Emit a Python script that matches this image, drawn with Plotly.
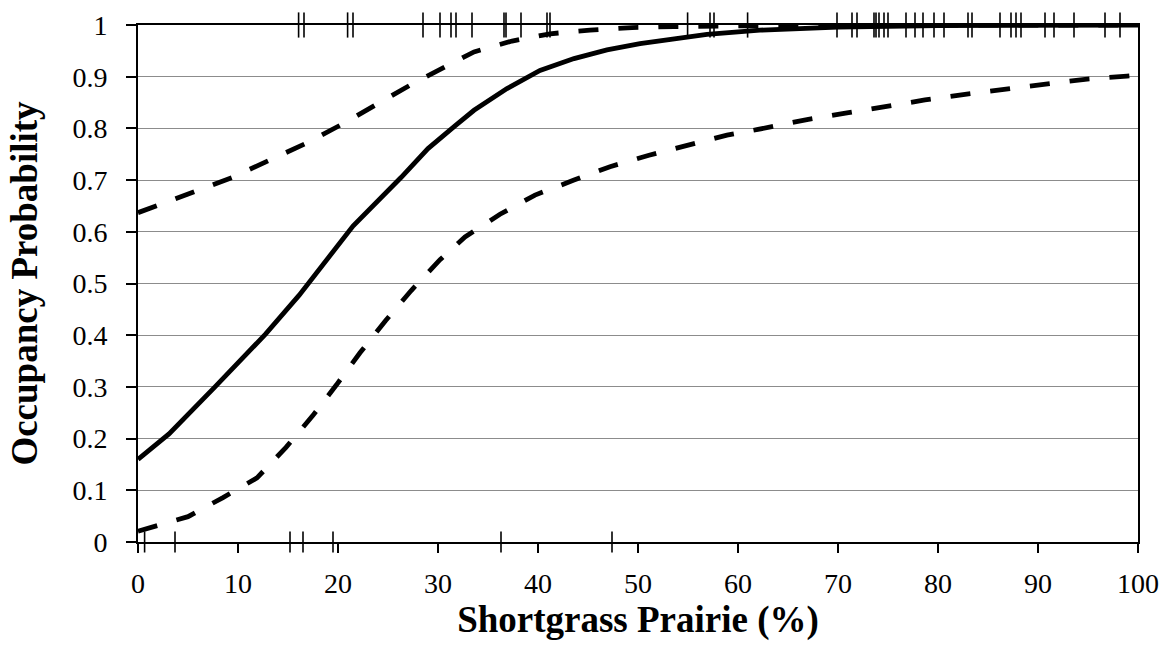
import plotly.graph_objects as go

# Shortgrass prairie (%) vs occupancy probability
mean_x = [0, 3.1, 7.7, 12.75, 16.1, 19.2, 21.5, 26.3, 29.0, 31.7, 33.6, 36.9, 40.2,
          43.6, 46.9, 50.2, 53.6, 56.9, 62.2, 70, 80, 100]
mean_y = [0.160, 0.209, 0.300, 0.402, 0.477, 0.552, 0.611, 0.705, 0.761, 0.805, 0.835,
          0.877, 0.912, 0.935, 0.952, 0.964, 0.974, 0.982, 0.990, 0.996, 0.999, 1.0]

upper_x = [0, 5.65, 9.4, 13.1, 16.8, 20.5, 24.1, 27.6, 31.2, 33.6, 37.4, 41.2, 45.2,
           49.4, 53.6, 60, 70, 100]
upper_y = [0.637, 0.677, 0.705, 0.738, 0.771, 0.809, 0.849, 0.888, 0.924, 0.948, 0.969,
           0.983, 0.990, 0.995, 0.997, 0.999, 1.0, 1.0]

lower_x = [0, 5.0, 8.5, 11.9, 14.8, 17.5, 19.85, 22.2, 24.75, 27.3, 30.2, 32.7, 36.2,
           39.7, 43.6, 47.2, 51.1, 55.1, 58.9, 62.0, 66.9, 70.9, 74.7, 78.7, 82.7, 86.7,
           90.7, 94.7, 98.9, 100]
lower_y = [0.021, 0.049, 0.086, 0.124, 0.183, 0.245, 0.304, 0.366, 0.428, 0.486, 0.546,
           0.590, 0.634, 0.671, 0.700, 0.726, 0.748, 0.768, 0.787, 0.798, 0.817, 0.830,
           0.843, 0.855, 0.866, 0.876, 0.885, 0.895, 0.901, 0.903]

# Observed sites: occupied (top rug, y=1) and unoccupied (bottom rug, y=0)
occupied_x = [16.06, 16.6, 20.96, 21.5, 28.5, 30.2, 31.3, 31.8, 33.4, 36.6, 36.8, 38.3,
              40.9, 41.2, 54.96, 57.2, 57.6, 60.96, 69.9, 71.4, 71.9, 73.6, 73.8, 74.1,
              74.6, 75.0, 76.8, 77.7, 78.5, 79.6, 80.6, 83.0, 83.4, 86.2, 87.3, 87.8,
              88.3, 90.7, 91.6, 93.6, 96.7, 98.2]
unoccupied_x = [0.66, 3.7, 15.2, 16.5, 19.5, 36.3, 47.4]

x_ticks = list(range(0, 101, 10))
y_ticks = [round(i * 0.1, 1) for i in range(11)]
y_tick_text = ["0", "0.1", "0.2", "0.3", "0.4", "0.5", "0.6", "0.7", "0.8", "0.9", "1"]

FONT = "Liberation Serif, Times New Roman, serif"

fig = go.Figure()

fig.add_trace(go.Scatter(
    x=occupied_x, y=[1] * len(occupied_x), mode="markers", cliponaxis=False,
    marker=dict(symbol="line-ns", size=18, line=dict(color="black", width=1.6)),
    showlegend=False, hoverinfo="x"))
fig.add_trace(go.Scatter(
    x=unoccupied_x, y=[0] * len(unoccupied_x), mode="markers", cliponaxis=False,
    marker=dict(symbol="line-ns", size=15, line=dict(color="black", width=1.6)),
    showlegend=False, hoverinfo="x"))

fig.add_trace(go.Scatter(x=upper_x, y=upper_y, mode="lines", cliponaxis=False,
                         line=dict(color="black", width=4.8, dash="20px,20px"),
                         showlegend=False))
fig.add_trace(go.Scatter(x=lower_x, y=lower_y, mode="lines", cliponaxis=False,
                         line=dict(color="black", width=4.8, dash="20px,20px"),
                         showlegend=False))
fig.add_trace(go.Scatter(x=mean_x, y=mean_y, mode="lines", cliponaxis=False,
                         line=dict(color="black", width=4.8),
                         showlegend=False))

fig.update_layout(
    width=1164, height=645,
    margin=dict(l=138, r=26, t=25, b=103),
    paper_bgcolor="white", plot_bgcolor="white",
    font=dict(family=FONT, size=28, color="black"),
    xaxis=dict(
        range=[0, 100], tickvals=x_ticks, ticks="outside", ticklen=9, tickwidth=1.5,
        tickcolor="black", showline=True, linecolor="black", linewidth=2, mirror=True,
        showgrid=False, zeroline=False, tickfont=dict(family=FONT, size=28),
        ticklabelstandoff=6, automargin=False,
        title=dict(text="<b>Shortgrass Prairie (%)</b>",
                   font=dict(family=FONT, size=37), standoff=3),
    ),
    yaxis=dict(
        range=[0, 1], tickvals=y_ticks, ticktext=y_tick_text, ticks="outside", ticklen=10,
        tickwidth=1.5, tickcolor="black", showline=True, linecolor="black", linewidth=2,
        mirror=True, showgrid=True, gridcolor="#8c8c8c", gridwidth=1.2, zeroline=False,
        tickfont=dict(family=FONT, size=28), ticklabelstandoff=13, automargin=False,
        title=dict(text="<b>Occupancy Probability</b>",
                   font=dict(family=FONT, size=37), standoff=23),
    ),
)

fig.write_html(
    "out.html",
    config={"displayModeBar": False},
    post_script="document.body.style.margin='0';document.body.style.overflow='hidden';",
)
